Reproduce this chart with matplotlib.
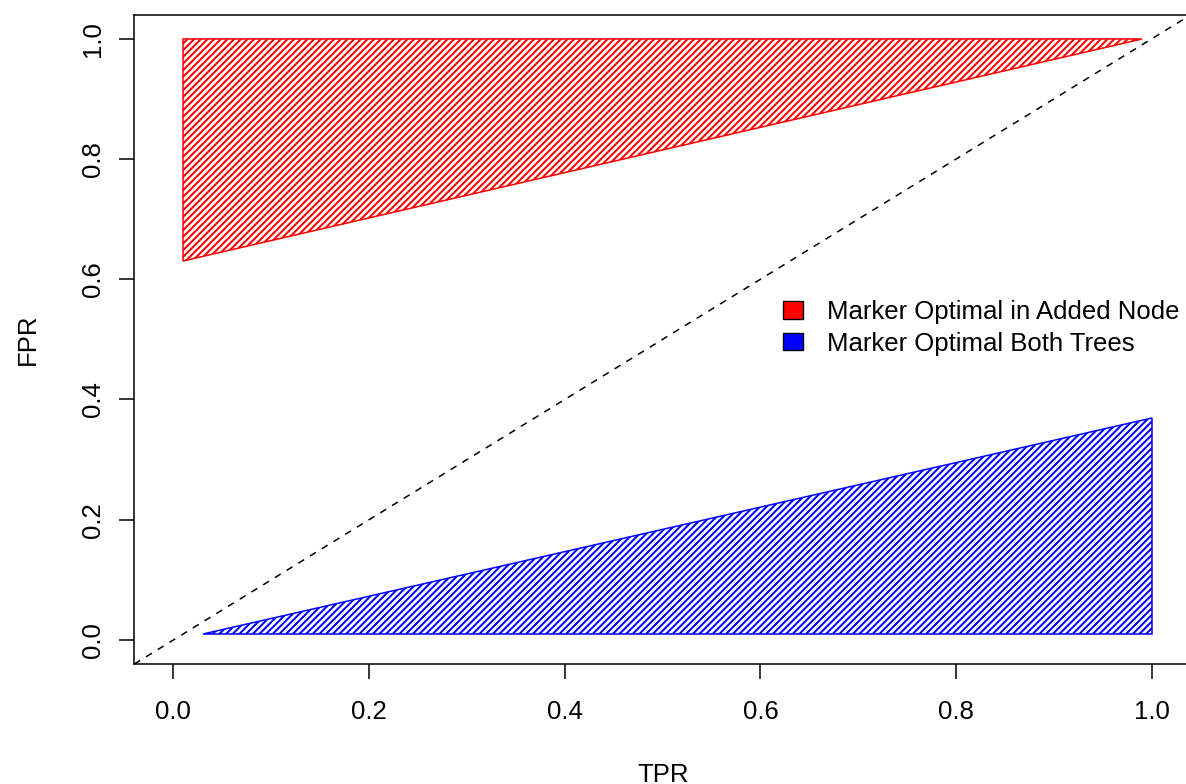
import matplotlib
matplotlib.use("Agg")
import matplotlib.pyplot as plt
from matplotlib.patches import Polygon, Patch

# Region where the marker is optimal in the added node
added_tpr = [0.01, 0.01, 0.99]
added_fpr = [0.63, 1.00, 1.00]

# Region where the marker is optimal in both trees
both_tpr = [0.03, 1.00, 1.00]
both_fpr = [0.01, 0.01, 0.37]

ticks = [0.0, 0.2, 0.4, 0.6, 0.8, 1.0]
tick_labels = ["0.0", "0.2", "0.4", "0.6", "0.8", "1.0"]
legend_labels = ["Marker Optimal in Added Node", "Marker Optimal Both Trees"]

plt.rcParams["font.family"] = ["Liberation Sans", "DejaVu Sans"]
plt.rcParams["hatch.linewidth"] = 1.45

FS = 18.5
W, H = 1186, 784
fig = plt.figure(figsize=(W / 100, H / 100), dpi=100)
left, right, top, bottom = 134.3, 1191.0, 14.7, 664.0
ax = fig.add_axes([left / W, 1 - bottom / H, (right - left) / W, (bottom - top) / H])
ax.set_xlim(-0.04, 1.04)
ax.set_ylim(-0.04, 1.04)

red_poly = Polygon(list(zip(added_tpr, added_fpr)), closed=True, facecolor="none",
                   edgecolor="#ff0000", hatch="/////", linewidth=1.1)
blue_poly = Polygon(list(zip(both_tpr, both_fpr)), closed=True, facecolor="none",
                    edgecolor="#0000ff", hatch="/////", linewidth=1.1)
ax.add_patch(red_poly)
ax.add_patch(blue_poly)

# Chance diagonal
ax.axline((0, 0), slope=1, color="black", linewidth=1.1, linestyle=(0, (4.5, 4.5)))

for s in ax.spines.values():
    s.set_linewidth(1.1)
ax.spines["right"].set_visible(False)

ax.set_xticks(ticks)
ax.set_xticklabels(tick_labels)
ax.set_yticks(ticks)
ax.set_yticklabels(tick_labels, rotation=90, va="center")
ax.tick_params(axis="both", direction="out", length=10.8, width=1.1, labelsize=FS)
ax.tick_params(axis="x", pad=15.0)
ax.tick_params(axis="y", pad=10.5)

fig.text((left + right) / 2 / W, 1 - 782 / H, "TPR", ha="center", va="baseline", fontsize=FS)
fig.text(16 / W, 1 - 339 / H, "FPR", ha="left", va="center", rotation=90, fontsize=FS)

handles = [Patch(facecolor="#ff0000", edgecolor="black", linewidth=1.0),
           Patch(facecolor="#0000ff", edgecolor="black", linewidth=1.0)]
ax.legend(handles, legend_labels, loc="upper left",
          bbox_to_anchor=(782.7 / W, 1 - 300 / H), bbox_transform=fig.transFigure,
          frameon=False, fontsize=FS, handlelength=0.8, handleheight=0.66,
          handletextpad=0.92, labelspacing=0.3, borderpad=0, borderaxespad=0)

fig.savefig("out.png", dpi=100)
